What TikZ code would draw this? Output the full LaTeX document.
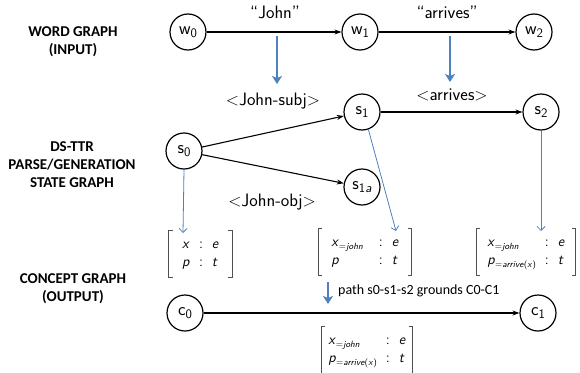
\documentclass[tikz,border=0pt]{standalone}
\usepackage{fontspec}
\newfontfamily\calfont{Carlito}
\usetikzlibrary{arrows.meta}
\definecolor{obl}{RGB}{79,129,189}
\definecolor{brkc}{RGB}{80,80,80}
\newcommand{\nsb}[1]{\raisebox{-0.35ex}{\fontsize{13}{13}\selectfont #1}}
\newcommand{\rsb}[1]{\raisebox{-0.45ex}{\fontsize{9}{9}\selectfont #1}}
\newcommand{\recbr}[1]{%
  \draw[brk] ([xshift=4pt]#1.north west) -- (#1.north west) -- (#1.south west) -- ([xshift=4pt]#1.south west);
  \draw[brk] ([xshift=-4pt]#1.north east) -- (#1.north east) -- (#1.south east) -- ([xshift=-4pt]#1.south east);}
\begin{document}
\begin{tikzpicture}[x=1pt,y=-1pt,
  st/.style={circle,draw,line width=1.2pt,minimum size=36pt,inner sep=0pt,font=\sffamily\fontsize{18}{18}\selectfont},
  lbl/.style={font=\calfont\bfseries\fontsize{15}{18}\selectfont,align=center},
  el/.style={font=\sffamily\fontsize{18}{18}\selectfont,inner sep=1pt},
  pl/.style={font=\calfont\fontsize{14}{16}\selectfont,anchor=west,inner sep=0pt},
  edge/.style={-{Stealth[length=7pt,width=5pt]},line width=1.1pt},
  bigar/.style={obl,line width=2.6pt,-{Stealth[length=8pt,width=10pt,inset=2pt]}},
  thinar/.style={obl,line width=0.8pt,-{Straight Barb[length=4pt,width=8pt]}},
  rec/.style={font=\sffamily\fontsize{14.5}{18}\selectfont,inner xsep=13pt,inner ysep=5pt},
  brk/.style={brkc,line width=1pt},
]
\useasboundingbox (0,0) rectangle (580,372);
% left labels
\node[lbl] (lw) at (73,42) {WORD GRAPH\\(INPUT)};
\node[lbl] (ls) at (72,165) {DS-TTR\\PARSE/GENERATION\\STATE GRAPH};
\node[lbl] (lc) at (73,289) {CONCEPT GRAPH\\(OUTPUT)};
% word graph
\node[st] (w0) at (188,32) {w\nsb{0}};
\node[st] (w1) at (360,32) {w\nsb{1}};
\node[st] (w2) at (534,32) {w\nsb{2}};
\draw[edge] (w0) -- (w1);
\draw[edge] (w1) -- (w2);
\node[el] (lj) at (275,12) {``John''};
\node[el] (la) at (447,12) {``arrives''};
% state graph
\node[st] (s0) at (184,151) {s\nsb{0}};
\node[st] (s1) at (362,112) {s\nsb{1}};
\node[st] (s2) at (541,112) {s\nsb{2}};
\node[st] (s1a) at (362,187) {s\nsb{1\textit{a}}};
\draw[edge] (s0) -- (s1);
\draw[edge] (s0) -- (s1a);
\draw[edge] (s1) -- (s2);
\node[el] (ljs) at (273,101) {$<$John-subj$>$};
\node[el] (lar) at (452,95) {$<$arrives$>$};
\node[el] (ljo) at (272,202) {$<$John-obj$>$};
\coordinate (ja) at (277,36);
\coordinate (jb) at (277,84);
\coordinate (aa) at (450,36);
\coordinate (ab) at (450,82);
\draw[bigar] (ja) -- (jb);
\draw[bigar] (aa) -- (ab);
% records
\node[rec] (r0) at (200.5,254) {\begin{tabular}{@{}l@{\hspace{9pt}}c@{\hspace{9pt}}l@{}}\textit{x} & : & \textit{e}\\ \textit{p} & : & \textit{t}\end{tabular}};
\node[rec] (r1) at (365,252) {\begin{tabular}{@{}l@{\hspace{16pt}}c@{\hspace{9pt}}l@{}}\textit{x}\rsb{=\textit{john}} & : & \textit{e}\\ \textit{p} & : & \textit{t}\end{tabular}};
\node[rec,inner xsep=11pt] (r2) at (526,252) {\begin{tabular}{@{}l@{\hspace{9pt}}c@{\hspace{9pt}}l@{}}\textit{x}\rsb{=\textit{john}} & : & \textit{e}\\ \textit{p}\rsb{=\textit{arrive}(\textit{x})} & : & \textit{t}\end{tabular}};
\node[rec,inner xsep=7pt] (r3) at (367,350) {\begin{tabular}{@{}l@{\hspace{9pt}}c@{\hspace{9pt}}l@{}}\textit{x}\rsb{=\textit{john}} & : & \textit{e}\\ \textit{p}\rsb{=\textit{arrive}(\textit{x})} & : & \textit{t}\end{tabular}};
\recbr{r0}
\recbr{r1}
\recbr{r2}
\recbr{r3}
\coordinate (t0) at (183,233);
\coordinate (t1) at (396,231);
\coordinate (t2) at (541,231);
\draw[thinar] (s0.south) -- (t0);
\draw[thinar] (s1.-70) -- (t1);
\draw[thinar] (s2.south) -- (t2);
% concept graph
\node[st] (c0) at (185,313) {c\nsb{0}};
\node[st] (c1) at (538,313) {c\nsb{1}};
\draw[edge] (c0) -- (c1);
\coordinate (pa) at (328,282);
\coordinate (pb) at (328,304);
\draw[bigar] (pa) -- (pb);
\node[pl] (pt) at (338,291) {path s0-s1-s2 grounds C0-C1};
\end{tikzpicture}
\end{document}
